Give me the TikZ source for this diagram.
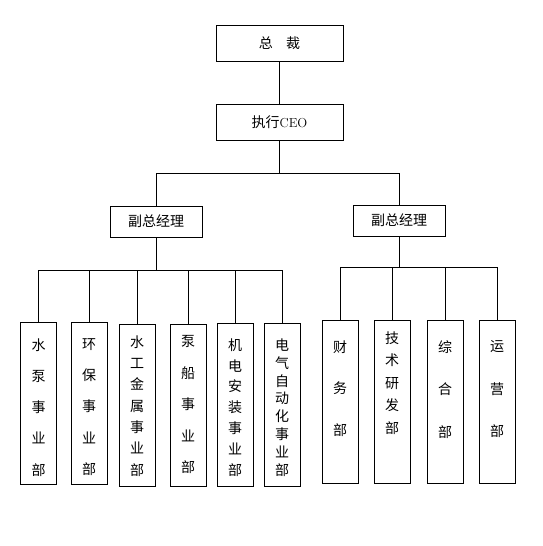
\documentclass[tikz,border=0pt]{standalone}
\usepackage{fontspec}
\newfontfamily\cjk{Noto Sans CJK SC}
\tikzset{%
  box/.style={draw,minimum width=#1,minimum height=36pt,inner sep=0pt,font=\cjk\fontsize{14pt}{16pt}\selectfont},
  box/.default=127pt,
  dept/.style={draw,minimum width=36pt,minimum height=#1,inner sep=0pt},
  dept/.default=162pt,
  vtext/.style={anchor=north,inner sep=0pt,align=center,font=\cjk\fontsize{14pt}{#1}\selectfont}
}

\begin{document}
\begin{tikzpicture}[x=1pt,y=-1pt,line width=1pt]
  \useasboundingbox (0,0) rectangle (543,546);
  \node[box] (ceo0) at (279.5,43) {总\hspace{0.95em}裁};
  \node[box] (ceo1) at (279.5,122) {执行{\rmfamily\fontsize{13pt}{15pt}\selectfont CEO}};
  \node[box=92pt,minimum height=31pt] (vp0) at (156,221.5) {副总经理};
  \node[box=92pt,minimum height=31pt] (vp1) at (399,220.5) {副总经理};
  \coordinate (j0) at (279.5,173);
  \coordinate (j1) at (156,270);
  \coordinate (j2) at (399,267);
  %%%
  \node[dept] (d0) at (38.5,403.5) {};
  \node[dept] (d1) at (89,403.5) {};
  \node[dept] (d2) at (137,405) {};
  \node[dept] (d3) at (188,405) {};
  \node[dept=163pt] (d4) at (235,404.5) {};
  \node[dept=163pt] (d5) at (282,404.5) {};
  \node[vtext=31.25pt] (t0) at (38.5,338) {水\\泵\\事\\业\\部};
  \node[vtext=31.25pt] (t1) at (89,338) {环\\保\\事\\业\\部};
  \node[vtext=21.3pt] (t2) at (137,335) {水\\工\\金\\属\\事\\业\\部};
  \node[vtext=31.5pt] (t3) at (188,335) {泵\\船\\事\\业\\部};
  \node[vtext=20.8pt] (t4) at (235,338) {机\\电\\安\\装\\事\\业\\部};
  \node[vtext=17.9pt] (t5) at (282,338) {电\\气\\自\\动\\化\\事\\业\\部};
  %%%
  \node[dept=163pt] (r0) at (340,401.5) {};
  \node[dept=163pt] (r1) at (392,401.5) {};
  \node[dept=163pt] (r2) at (445,401.5) {};
  \node[dept=163pt] (r3) at (497,401.5) {};
  \node[vtext=41.5pt] (s0) at (340,340) {财\\务\\部};
  \node[vtext=22.5pt] (s1) at (392,331) {技\\术\\研\\发\\部};
  \node[vtext=42.5pt] (s2) at (445,340) {综\\合\\部};
  \node[vtext=42.5pt] (s3) at (497,340) {运\\营\\部};
  %%%
  \draw (ceo0) -- (ceo1);
  \draw (ceo1) -- (j0);
  \draw (j0) -| (vp0);
  \draw (j0) -| (vp1);
  \draw (vp0) -- (j1);
  \draw (vp1) -- (j2);
  \draw (j1) -| (d0);
  \draw (j1) -| (d1);
  \draw (j1) -| (d2);
  \draw (j1) -| (d3);
  \draw (j1) -| (d4);
  \draw (j1) -| (d5);
  \draw (j2) -| (r0);
  \draw (j2) -| (r1);
  \draw (j2) -| (r2);
  \draw (j2) -| (r3);
\end{tikzpicture}
\end{document}
